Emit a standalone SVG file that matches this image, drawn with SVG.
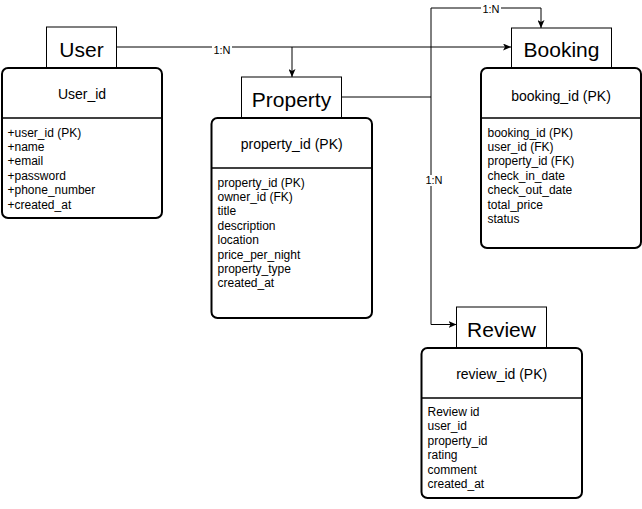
<svg xmlns="http://www.w3.org/2000/svg" width="642" height="509" viewBox="0 0 642 509">
<defs>
<style>
.ent{fill:#fff;stroke:#000;stroke-width:2}
.ttl{fill:#fff;stroke:#000;stroke-width:1}
.div{stroke:#000;stroke-width:1.5}
.t{font-family:"Liberation Sans",Arial,sans-serif;fill:#000}
.title{font-size:21px;text-anchor:middle}
.hdr{font-size:14px;text-anchor:middle}
.attr{font-size:12px}
.edge{fill:none;stroke:#000;stroke-width:1}
.lbl{font-family:"Liberation Sans",Arial,sans-serif;font-size:11px;text-anchor:middle;fill:#000}
</style>
<marker id="arr" markerWidth="8" markerHeight="7" refX="8" refY="3.5" orient="auto" markerUnits="userSpaceOnUse">
<path d="M0,0 L8,3.5 L0,7 L2,3.5 z" fill="#000"/>
</marker>
</defs>
<rect width="642" height="509" fill="#fff"/>

<g id="connectors">
<path class="edge" d="M116.5,47 H511" marker-end="url(#arr)"/>
<path class="edge" d="M292,47 V77" marker-end="url(#arr)"/>
<path class="edge" d="M341.5,97 H431 V8 H541 V28" marker-end="url(#arr)"/>
<path class="edge" d="M431,97 V324.5 H456.5" marker-end="url(#arr)"/>
<rect x="212" y="44" width="20" height="11" fill="#fff"/>
<text class="lbl" x="222" y="53.5">1:N</text>
<rect x="481" y="3" width="20" height="11" fill="#fff"/>
<text class="lbl" x="491" y="12.5">1:N</text>
<rect x="424" y="175" width="20" height="11" fill="#fff"/>
<text class="lbl" x="434" y="184">1:N</text>
</g>

<g id="user">
<rect class="ttl" x="46.5" y="27" width="70" height="41"/>
<text class="t title" x="81.5" y="57">User</text>
<rect class="ent" x="2" y="68" width="160" height="150" rx="6"/>
<line class="div" x1="2" y1="118" x2="162" y2="118"/>
<text class="t hdr" x="82" y="98.5">User_id</text>
<text class="t attr" x="7.5" y="136.5">+user_id (PK)</text>
<text class="t attr" x="7.5" y="150.9">+name</text>
<text class="t attr" x="7.5" y="165.3">+email</text>
<text class="t attr" x="7.5" y="179.7">+password</text>
<text class="t attr" x="7.5" y="194.1">+phone_number</text>
<text class="t attr" x="7.5" y="208.5">+created_at</text>
</g>

<g id="property">
<rect class="ttl" x="241.5" y="77" width="100" height="41"/>
<text class="t title" x="291.5" y="107">Property</text>
<rect class="ent" x="211.5" y="118" width="160.5" height="200" rx="6"/>
<line class="div" x1="211.5" y1="168" x2="372" y2="168"/>
<text class="t hdr" x="291.7" y="148.5">property_id (PK)</text>
<text class="t attr" x="217.5" y="186.5">property_id (PK)</text>
<text class="t attr" x="217.5" y="200.9">owner_id (FK)</text>
<text class="t attr" x="217.5" y="215.3">title</text>
<text class="t attr" x="217.5" y="229.7">description</text>
<text class="t attr" x="217.5" y="244.1">location</text>
<text class="t attr" x="217.5" y="258.5">price_per_night</text>
<text class="t attr" x="217.5" y="272.9">property_type</text>
<text class="t attr" x="217.5" y="287.3">created_at</text>
</g>

<g id="booking">
<rect class="ttl" x="511.5" y="28" width="100" height="40"/>
<text class="t title" x="561.5" y="57">Booking</text>
<rect class="ent" x="481" y="68" width="160" height="180" rx="6"/>
<line class="div" x1="481" y1="118" x2="641" y2="118"/>
<text class="t hdr" x="561" y="101">booking_id (PK)</text>
<text class="t attr" x="487.5" y="136.5">booking_id (PK)</text>
<text class="t attr" x="487.5" y="150.9">user_id (FK)</text>
<text class="t attr" x="487.5" y="165.3">property_id (FK)</text>
<text class="t attr" x="487.5" y="179.7">check_in_date</text>
<text class="t attr" x="487.5" y="194.1">check_out_date</text>
<text class="t attr" x="487.5" y="208.5">total_price</text>
<text class="t attr" x="487.5" y="222.9">status</text>
</g>

<g id="review">
<rect class="ttl" x="456.5" y="307" width="90" height="41"/>
<text class="t title" x="501.5" y="337">Review</text>
<rect class="ent" x="421.5" y="348" width="160.5" height="150" rx="6"/>
<line class="div" x1="421.5" y1="398" x2="582" y2="398"/>
<text class="t hdr" x="501.7" y="378.5">review_id (PK)</text>
<text class="t attr" x="427.5" y="416">Review id</text>
<text class="t attr" x="427.5" y="430.4">user_id</text>
<text class="t attr" x="427.5" y="444.8">property_id</text>
<text class="t attr" x="427.5" y="459.2">rating</text>
<text class="t attr" x="427.5" y="473.6">comment</text>
<text class="t attr" x="427.5" y="488">created_at</text>
</g>
</svg>
